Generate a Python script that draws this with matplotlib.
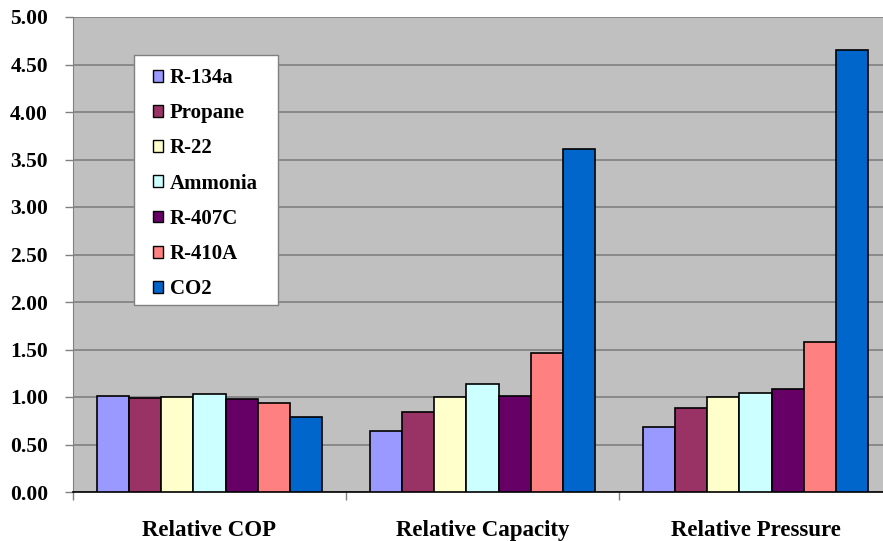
import numpy as np
import matplotlib
matplotlib.use("Agg")
import matplotlib.pyplot as plt
from matplotlib.patches import Patch, Rectangle

plt.rcParams['font.family'] = ['Liberation Serif', 'DejaVu Serif']
plt.rcParams['font.weight'] = 'bold'

# data
categories = ["Relative COP", "Relative Capacity", "Relative Pressure"]
refrigerants = ["R-134a", "Propane", "R-22", "Ammonia", "R-407C", "R-410A", "CO2"]
colors = ["#9999FF", "#993366", "#FFFFCC", "#CCFFFF", "#660066", "#FF8080", "#0066CC"]
values = {
    "R-134a":  [1.01, 0.64, 0.68],
    "Propane": [0.99, 0.84, 0.88],
    "R-22":    [1.00, 1.00, 1.00],
    "Ammonia": [1.03, 1.14, 1.04],
    "R-407C":  [0.98, 1.01, 1.08],
    "R-410A":  [0.94, 1.46, 1.58],
    "CO2":     [0.79, 3.61, 4.65],
}
yticks = np.arange(0, 5.01, 0.5)

W, H = 883, 541
fig = plt.figure(figsize=(W / 100, H / 100), dpi=100)
ax = fig.add_axes([73 / W, 49 / H, 819 / W, 475 / H])
ax.set_facecolor("#C0C0C0")

n = len(refrigerants)
bw = 1.0 / (n + 1.5)
x = np.arange(len(categories))
for i, (name, col) in enumerate(zip(refrigerants, colors)):
    offs = (i - (n - 1) / 2) * bw
    ax.bar(x + offs, values[name], width=bw, color=col, edgecolor="black",
           linewidth=1.2, zorder=3)

ax.set_xlim(-0.5, 2.5)
ax.set_ylim(0, 5)
ax.set_yticks(yticks)
ax.set_yticklabels(["%.2f" % v for v in yticks], fontsize=15.5, fontweight='bold')
ax.yaxis.grid(True, color="#808080", linewidth=1.2, zorder=0)
ax.set_axisbelow(True)

ax.set_xticks(x)
ax.set_xticklabels(categories, fontsize=16.5, fontweight='bold')
ax.set_xticks([-0.5, 0.5, 1.5, 2.5], minor=True)
ax.tick_params(axis='x', which='major', length=0, pad=20)
ax.tick_params(axis='x', which='minor', length=6, width=1, color='#808080')
ax.tick_params(axis='y', length=6, width=1, color='#808080', pad=12)

for s in ['top', 'right']:
    ax.spines[s].set_visible(False)
ax.spines['left'].set_color('#808080')
ax.spines['bottom'].set_color('black')
ax.spines['bottom'].set_linewidth(1.2)

# legend box drawn by hand (wider side padding than matplotlib allows)
def ax_frac(px, py):
    return (px - 73) / 819, (492 - py) / 475

x0, y0 = ax_frac(134, 305)
x1, y1 = ax_frac(278, 55)
ax.add_patch(Rectangle((x0, y0), x1 - x0, y1 - y0, transform=ax.transAxes,
                       facecolor='white', edgecolor='#808080', linewidth=1,
                       zorder=5))

handles = [Patch(facecolor=c, edgecolor='black', linewidth=1) for c in colors]
leg = ax.legend(handles, refrigerants, loc='upper left',
                bbox_to_anchor=ax_frac(153, 68),
                fontsize=15, frameon=False, handlelength=0.5, handleheight=0.5,
                handletextpad=0.3, labelspacing=0.73, borderpad=0,
                borderaxespad=0)
leg.set_zorder(6)
for t in leg.get_texts():
    t.set_fontweight('bold')

fig.savefig("out.png", dpi=100)
